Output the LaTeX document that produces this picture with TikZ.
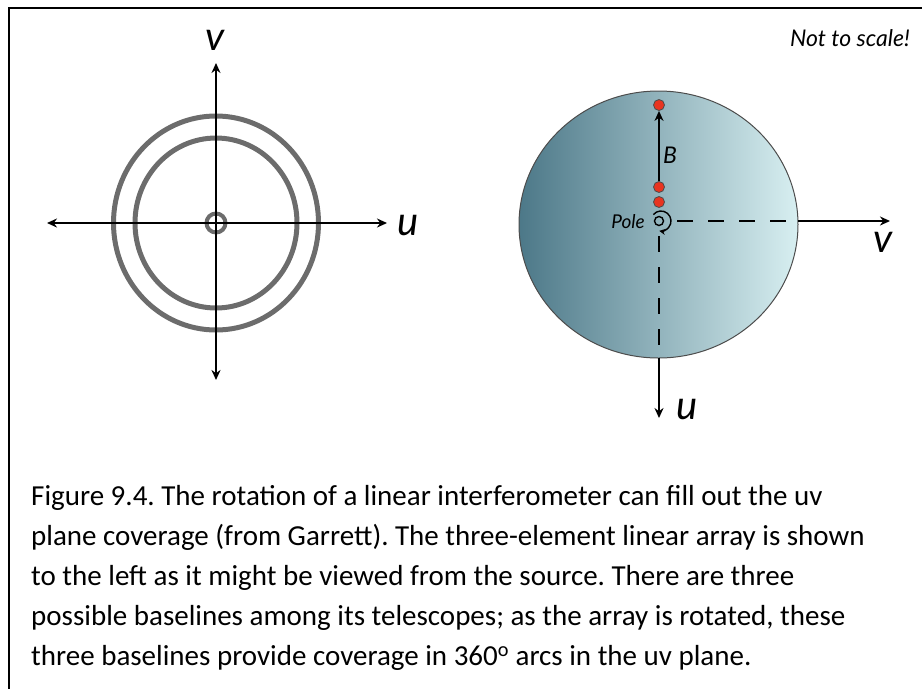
\documentclass[tikz,border=0pt]{standalone}
\usepackage{fontspec}
\setmainfont{Carlito}
\newfontfamily\labelfont{Lato}
\usepackage{xcolor}
\usetikzlibrary{arrows.meta,positioning,calc}
\definecolor{ringgray}{RGB}{108,108,108}
\definecolor{skydark}{RGB}{76,120,136}
\definecolor{skymid}{RGB}{138,188,200}
\definecolor{skylight}{RGB}{216,239,241}
\definecolor{dotred}{RGB}{232,52,32}

\tikzset{
  axis/.style={line width=2pt, ->},
  dblaxis/.style={line width=2pt, <->},
  ring/.style={draw=ringgray, line width=5pt},
  dashaxis/.style={line width=2.6pt, dash pattern=on 16pt off 15pt},
  antenna/.style={circle, draw=black!70, fill=dotred, line width=0.8pt, minimum size=11pt, inner sep=0pt},
  axlabel/.style={font=\labelfont\itshape\fontsize{40}{40}\selectfont, inner sep=0pt}
}

\begin{document}
\frenchspacing
\begin{tikzpicture}[x=1pt, y=-1pt, >={Stealth[length=10pt,width=9pt]}]
    \useasboundingbox (0,0) rectangle (922,689);
    % frame (only top and left are visible)
    \draw[line width=2pt] (922,8) -- (9,8) -- (9,689);
    \node[font=\labelfont\itshape\fontsize{23}{23}\selectfont, anchor=east, inner sep=0pt] (note) at (910,38) {Not to scale!};

    % left: uv tracks seen from the source
    \coordinate (lorig) at (216,223);
    \draw[ring] (lorig) ellipse [x radius=102.5, y radius=107];
    \draw[ring] (lorig) ellipse [x radius=81, y radius=85];
    \draw[draw=ringgray, line width=4pt] (lorig) circle (9.5);
    \coordinate (lwest) at (47,223);
    \coordinate (least) at (387,223);
    \coordinate (lnorth) at (216,63);
    \coordinate (lsouth) at (216,380);
    \draw[dblaxis] (lwest) -- (least);
    \draw[dblaxis] (lsouth) -- (lnorth);
    \node[axlabel] (lu) at (408,226) {u};
    \node[axlabel] (lv) at (215,40) {v};

    % right: the celestial sphere with the array
    \coordinate (pole) at (659,221);
    \shade[left color=skydark, middle color=skymid, right color=skylight, draw=black!70, line width=1pt]
        (658.5,224.5) ellipse [x radius=139.5, y radius=133.5];
    \coordinate (redge) at (798,221);
    \coordinate (rtip) at (890,221);
    \coordinate (bedge) at (659,358);
    \coordinate (btip) at (659,418);
    \draw[dashaxis] ($(pole)+(18,0)$) -- (redge);
    \draw[axis] (redge) -- (rtip);
    \draw[dashaxis] ($(pole)+(0,15)$) -- (bedge);
    \draw[axis] (bedge) -- (btip);
    \node[axlabel] (rv) at (883,242) {v};
    \node[axlabel] (ru) at (687,410) {u};

    \node[antenna] (ant1) at (659,105) {};
    \node[antenna] (ant2) at (659,187) {};
    \node[antenna] (ant3) at (659,202) {};
    \draw[axis] (ant2) -- (ant1);
    \node[font=\labelfont\itshape\fontsize{23}{23}\selectfont, inner sep=0pt] (base) at (670,155) {B};

    % rotation about the pole
    \draw[line width=1.4pt] (pole) circle (4.5);
    \draw[line width=1.4pt, -{Stealth[length=6pt,width=6pt]}] ($(pole)+(2,0)$) ++(-140:10) arc [start angle=-140, end angle=100, radius=10];
    \node[font=\labelfont\itshape\fontsize{19}{19}\selectfont, anchor=east, inner sep=0pt] (polelbl) at (645,222) {Pole};

    % caption
    \node[anchor=north west, align=left, inner sep=0pt, font=\fontsize{29}{40}\selectfont] (caption) at (31,485) {%
      Figure 9.4. The rotation of a linear interferometer can fill out the uv\\
      plane coverage (from Garrett). The three-element linear array is shown\\
      to the left as it might be viewed from the source. There are three\\
      possible baselines among its telescopes; as the array is rotated, these\\
      three baselines provide coverage in 360\textsuperscript{o} arcs in the uv plane.};
\end{tikzpicture}
\end{document}
